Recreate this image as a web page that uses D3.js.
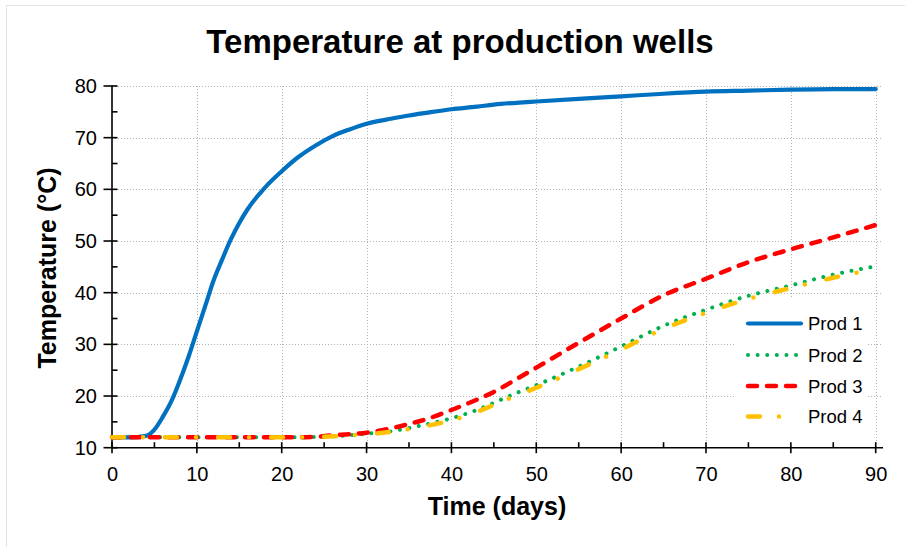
<!DOCTYPE html>
<html><head><meta charset="utf-8">
<script src="https://cdn.jsdelivr.net/npm/d3@7"></script>
<style>
html,body{margin:0;padding:0;background:#fff;}
svg{display:block;font-family:"Liberation Sans",Arial,sans-serif;}
</style></head><body>
<svg id="chart" width="905" height="547"></svg>
<script>
const days = [0,2,4,5,6,7,8,9,10,11,12,13,14,15,16,18,20,22,24,26,28,30,33,35,37,40,43,45,48,50,55,60,65,70,75,80,85,90];
const prod1 = [12,12,12.3,13.5,16,19,23,27.5,32.5,37.5,42.5,46.5,50.3,53.5,56.2,60.3,63.5,66.3,68.5,70.3,71.6,72.7,73.7,74.3,74.8,75.5,76.0,76.4,76.8,77.0,77.5,78.0,78.5,78.9,79.1,79.3,79.4,79.4];
const prod2 = [12,12,12,12,12,12,12,12,12,12,12,12,12,12,12,12,12,12,12.1,12.2,12.4,12.7,13.2,13.8,14.5,15.7,17.3,18.7,20.8,22.1,25.7,29.6,33.6,36.7,39.4,41.4,43.5,45.1];
const prod3 = [12,12,12,12,12,12,12,12,12,12,12,12,12,12,12,12,12,12,12.1,12.4,12.6,12.9,13.8,14.6,15.5,17.3,19.3,20.8,23.6,25.5,30.3,35.0,39.5,42.7,45.9,48.4,50.7,53.1];
const prod4 = [12,12,12,12,12,12,12,12,12,12,12,12,12,12,12,12,12,12,12.1,12.2,12.4,12.6,13.1,13.6,14.2,15.3,16.9,18.3,20.3,21.6,25.2,29.0,33.0,36.1,38.8,40.9,42.9,44.6];
const seriesNames = ["Prod 1","Prod 2","Prod 3","Prod 4"];
const xTicks = [0,10,20,30,40,50,60,70,80,90];
const xMinor = [5,15,25,35,45,55,65,75,85];
const yTicks = [10,20,30,40,50,60,70,80];
const yMinor = [15,25,35,45,55,65,75];
const titleText = "Temperature at production wells";
const xTitle = "Time (days)";
const yTitle = "Temperature (°C)";

const svg = d3.select("#chart");
const x = d3.scaleLinear().domain([0,90]).range([112,875.7]);
const y = d3.scaleLinear().domain([10,80]).range([447.7,86]);
const xEnd = 883;

// frame
svg.append("line").attr("x1",6).attr("x2",905).attr("y1",5.5).attr("y2",5.5).attr("stroke","#e4e4e4");
svg.append("line").attr("x1",6.5).attr("x2",6.5).attr("y1",5).attr("y2",547).attr("stroke","#e4e4e4");

// grid
const grid = svg.append("g");
grid.selectAll(".gx").data(xTicks.slice(1)).enter().append("line")
  .attr("x1",d=>Math.round(x(d))+0.5).attr("x2",d=>Math.round(x(d))+0.5)
  .attr("y1",y(80)).attr("y2",y(10))
  .attr("stroke","#b4b4b4").attr("stroke-dasharray","1,2");
grid.selectAll(".gy").data(yTicks.slice(1)).enter().append("line")
  .attr("y1",d=>Math.round(y(d))+0.5).attr("y2",d=>Math.round(y(d))+0.5)
  .attr("x1",x(0)).attr("x2",xEnd)
  .attr("stroke","#b4b4b4").attr("stroke-dasharray","1,2");

// legend background (covers grid)
svg.append("rect").attr("x",736).attr("y",297).attr("width",131).attr("height",149).attr("fill","#fff");

// axes
const xAxis = d3.axisBottom(x).tickValues(xTicks).tickSize(0).tickPadding(19).tickFormat(d3.format("d"));
const gx = svg.append("g").attr("transform",`translate(0,${y(10)})`).call(xAxis);
gx.select(".domain").remove();
gx.selectAll("text").attr("font-size","20px").attr("fill","#000").attr("font-family","Liberation Sans, Arial, sans-serif");
const yAxis = d3.axisLeft(y).tickValues(yTicks).tickSize(0).tickPadding(15).tickFormat(d3.format("d"));
const gy = svg.append("g").attr("transform",`translate(${x(0)},0)`).call(yAxis);
gy.select(".domain").remove();
gy.selectAll("text").attr("font-size","20px").attr("fill","#000").attr("font-family","Liberation Sans, Arial, sans-serif");

const ax = svg.append("g").attr("stroke","#000").attr("stroke-width",1.6);
ax.append("line").attr("x1",x(0)).attr("x2",xEnd).attr("y1",y(10)).attr("y2",y(10));
ax.append("line").attr("x1",x(0)).attr("x2",x(0)).attr("y1",y(80)-0.5).attr("y2",y(10));
ax.selectAll(".tx").data(xTicks).enter().append("line")
  .attr("x1",d=>x(d)).attr("x2",d=>x(d)).attr("y1",y(10)-5.5).attr("y2",y(10)+5.5);
ax.selectAll(".mx").data(xMinor).enter().append("line")
  .attr("x1",d=>x(d)).attr("x2",d=>x(d)).attr("y1",y(10)-5.5).attr("y2",y(10));
ax.selectAll(".ty").data(yTicks).enter().append("line")
  .attr("y1",d=>y(d)).attr("y2",d=>y(d)).attr("x1",x(0)-8.5).attr("x2",x(0)+5.5);
ax.selectAll(".my").data(yMinor).enter().append("line")
  .attr("y1",d=>y(d)).attr("y2",d=>y(d)).attr("x1",x(0)).attr("x2",x(0)+5.5);

// series
const styles = [
  {color:"#0070c0", width:4.2, dash:null},
  {color:"#00b050", width:4, dash:"0.01,9.6"},
  {color:"#ff0000", width:4.5, dash:"9,10"},
  {color:"#ffc000", width:4.5, dash:"12,19,0.01,22"}
];
const allSeries = [prod1,prod2,prod3,prod4];
const line = d3.line().x(d=>x(d[0])).y(d=>y(d[1])).curve(d3.curveMonotoneX);
allSeries.forEach((vals,i)=>{
  const pts = days.map((d,j)=>[d,vals[j]]);
  svg.append("path").datum(pts).attr("d",line)
    .attr("fill","none").attr("stroke",styles[i].color).attr("stroke-width",styles[i].width)
    .attr("stroke-linecap","round").attr("stroke-linejoin","round")
    .attr("stroke-dasharray",styles[i].dash);
});

// legend
const legY = [323.5,355,386,416.5];
const lg = svg.append("g");
seriesNames.forEach((n,i)=>{
  lg.append("line").attr("x1",748).attr("x2",801).attr("y1",legY[i]).attr("y2",legY[i])
    .attr("stroke",styles[i].color).attr("stroke-width",styles[i].width)
    .attr("stroke-linecap","round").attr("stroke-dasharray",styles[i].dash);
  lg.append("text").attr("x",808).attr("y",legY[i]).attr("dy","0.36em")
    .attr("font-size","18.5px").attr("fill","#000").text(n);
});

// titles
svg.append("text").attr("x",460).attr("y",53).attr("text-anchor","middle")
  .attr("font-size","33px").attr("font-weight","bold").attr("fill","#000").text(titleText);
svg.append("text").attr("x",497).attr("y",515).attr("text-anchor","middle")
  .attr("font-size","25px").attr("font-weight","bold").attr("fill","#000").text(xTitle);
svg.append("text").attr("transform","translate(56,268) rotate(-90)").attr("text-anchor","middle")
  .attr("font-size","25px").attr("font-weight","bold").attr("fill","#000").text(yTitle);
</script>
</body></html>
